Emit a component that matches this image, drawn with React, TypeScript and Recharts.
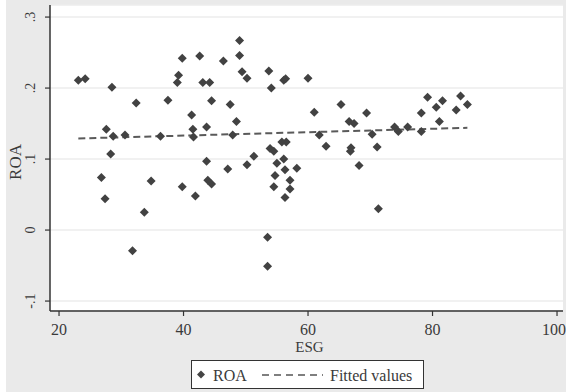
import { ScatterChart, Scatter, XAxis, YAxis, CartesianGrid } from "recharts";

// ESG score vs ROA
const esg = [
  23.1, 24.2, 28.5, 32.4, 27.6, 28.7, 30.6, 28.3, 26.8, 27.4, 33.7, 31.8, 36.3, 34.8, 37.5,
  39.8, 39.2, 39.0, 41.3, 41.5, 41.6, 42.6, 43.1, 44.2, 44.5, 43.7, 43.7, 43.9, 44.5, 39.8,
  41.9, 46.4, 47.5, 48.5, 47.9, 47.1, 50.2, 51.3, 49.0, 49.0, 49.4, 50.2, 53.7, 54.1, 56.1,
  56.4, 53.9, 54.5, 55.8, 56.5, 55.0, 56.1, 54.7, 56.3, 58.2, 57.1, 54.5, 57.1, 56.3, 53.5,
  53.5, 60.0, 61.0, 61.8, 62.9, 65.3, 66.6, 67.4, 66.9, 66.8, 68.2, 69.4, 70.3, 71.1, 71.3,
  73.9, 74.5, 76.0, 78.2, 78.2, 79.2, 80.6, 81.6, 81.1, 83.8, 84.5, 85.6,
];
const roa = [
  0.211, 0.213, 0.201, 0.179, 0.142, 0.132, 0.134, 0.107, 0.074, 0.044, 0.025, -0.029, 0.132, 0.069, 0.183,
  0.242, 0.218, 0.208, 0.162, 0.142, 0.131, 0.245, 0.208, 0.208, 0.182, 0.145, 0.097, 0.07, 0.065, 0.061,
  0.048, 0.238, 0.177, 0.153, 0.134, 0.086, 0.092, 0.104, 0.267, 0.246, 0.223, 0.214, 0.224, 0.2, 0.211,
  0.213, 0.115, 0.111, 0.124, 0.124, 0.094, 0.1, 0.077, 0.085, 0.087, 0.07, 0.061, 0.058, 0.046, -0.01,
  -0.051, 0.214, 0.166, 0.134, 0.118, 0.177, 0.153, 0.15, 0.116, 0.111, 0.091, 0.165, 0.135, 0.117, 0.03,
  0.145, 0.139, 0.145, 0.165, 0.139, 0.187, 0.173, 0.182, 0.153, 0.169, 0.189, 0.177,
];

// fitted values line, end points
const fitX = [23.1, 85.6];
const fitY = [0.129, 0.144];

const xTicks = [20, 40, 60, 80, 100];
const yTicks = [-0.1, 0, 0.1, 0.2, 0.3];

const FONT = "'Liberation Serif', 'DejaVu Serif', serif";
const INK = "#3a3a3a";

const points = esg.map((x, i) => ({ x, y: roa[i] }));
const fitted = fitX.map((x, i) => ({ x, y: fitY[i] }));

function stataNum(v: number): string {
  if (v === 0) return "0";
  return String(v).replace("0.", ".");
}

const Diamond = (props: any) => {
  const { cx, cy } = props;
  const r = 4.5;
  return <path d={`M${cx},${cy - r}L${cx + r},${cy}L${cx},${cy + r}L${cx - r},${cy}Z`} fill="#424242" />;
};

const YTick = (props: any) => {
  const { y, payload } = props;
  const x = 31;
  return (
    <text
      x={x}
      y={y}
      transform={`rotate(-90 ${x} ${y})`}
      textAnchor="middle"
      dominantBaseline="central"
      fontFamily={FONT}
      fontSize={14}
      fill={INK}
    >
      {stataNum(payload.value)}
    </text>
  );
};

const XTick = (props: any) => {
  const { x, payload } = props;
  return (
    <text x={x} y={329} textAnchor="middle" dominantBaseline="central" fontFamily={FONT} fontSize={16} fill={INK}>
      {payload.value}
    </text>
  );
};

const YTitle = (props: any) => {
  const vb = props.viewBox || { y: 5, height: 306 };
  const x = 15;
  const y = vb.y + vb.height / 2 + 4;
  return (
    <text
      x={x}
      y={y}
      transform={`rotate(-90 ${x} ${y})`}
      textAnchor="middle"
      dominantBaseline="central"
      fontFamily={FONT}
      fontSize={17}
      fill={INK}
    >
      ROA
    </text>
  );
};

const XTitle = (props: any) => {
  const vb = props.viewBox || { x: 50, width: 513 };
  return (
    <text
      x={vb.x + vb.width / 2 + 3}
      y={347}
      textAnchor="middle"
      dominantBaseline="central"
      fontFamily={FONT}
      fontSize={15}
      fill={INK}
    >
      ESG
    </text>
  );
};

function LegendBox() {
  return (
    <div
      style={{
        position: "absolute",
        left: 191,
        top: 360,
        width: 231,
        height: 27,
        background: "#fff",
        border: "1.5px solid #333",
      }}
    >
      <svg width={231} height={27} style={{ position: "absolute", left: 0, top: 0 }}>
        <path d="M9,9.5L13,13.5L9,17.5L5,13.5Z" fill="#444" />
        <text x={21} y={14} dominantBaseline="central" fontFamily={FONT} fontSize={16} fill={INK}>
          ROA
        </text>
        <line x1={70} y1={14} x2={131} y2={14} stroke="#555" strokeWidth={1.6} strokeDasharray="7 5" />
        <text x={138} y={14} dominantBaseline="central" fontFamily={FONT} fontSize={16} fill={INK}>
          Fitted values
        </text>
      </svg>
    </div>
  );
}

export default function App() {
  return (
    <div style={{ position: "absolute", left: 0, top: 0, width: 566, height: 392, background: "#fff" }}>
      <div style={{ position: "absolute", left: 6, top: 0, width: 560, height: 392, background: "#eaeaea" }} />
      <div style={{ position: "absolute", left: 0, top: 0 }}>
        <ScatterChart width={566} height={392} margin={{ top: 5, right: 3, bottom: 41, left: 0 }}>
          <CartesianGrid vertical={false} stroke="#ececec" strokeWidth={1.5} fill="#fff" />
          <XAxis
            type="number"
            dataKey="x"
            domain={[18.55, 100.96]}
            ticks={xTicks}
            allowDataOverflow
            height={40}
            axisLine={{ stroke: "#333", strokeWidth: 1.5 }}
            tickLine={{ stroke: "#333", strokeWidth: 1.2 }}
            tickSize={5}
            tick={<XTick />}
            label={<XTitle />}
          />
          <YAxis
            type="number"
            dataKey="y"
            domain={[-0.114, 0.317]}
            ticks={yTicks}
            allowDataOverflow
            width={50}
            axisLine={{ stroke: "#333", strokeWidth: 1.5 }}
            tickLine={{ stroke: "#333", strokeWidth: 1.2 }}
            tickSize={5}
            tick={<YTick />}
            label={<YTitle />}
          />
          <Scatter
            data={fitted}
            shape={() => <g />}
            line={{ stroke: "#5a5a5a", strokeWidth: 2, strokeDasharray: "7 4" }}
            isAnimationActive={false}
          />
          <Scatter data={points} shape={<Diamond />} isAnimationActive={false} />
        </ScatterChart>
      </div>
      <LegendBox />
    </div>
  );
}
